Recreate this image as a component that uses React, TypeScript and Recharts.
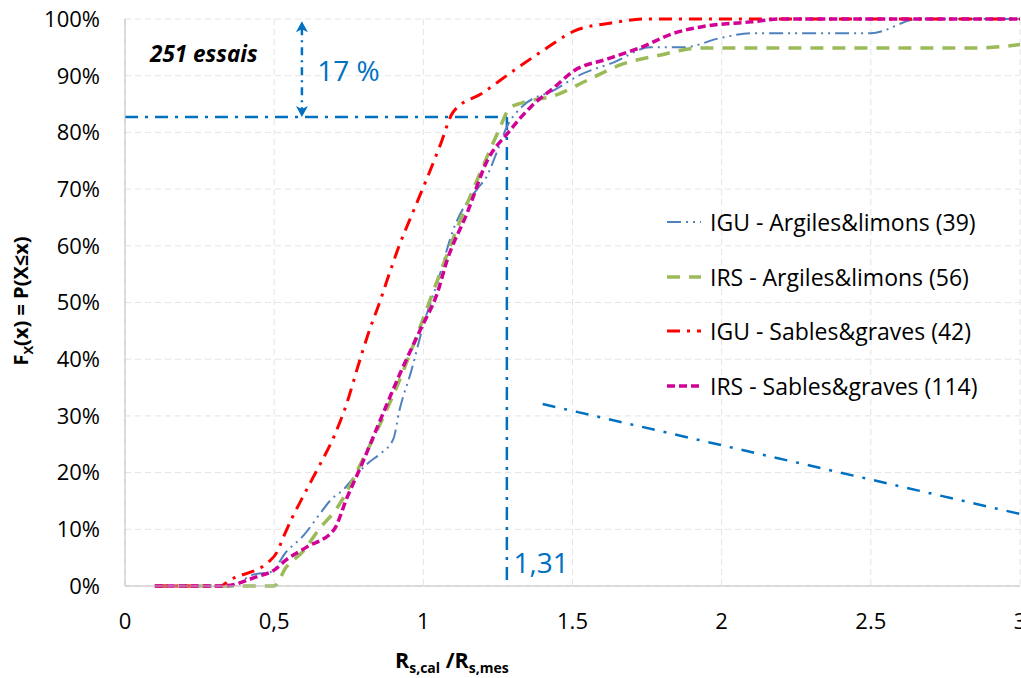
import React from 'react'
import {
  LineChart,
  Line,
  XAxis,
  YAxis,
  CartesianGrid,
  Legend,
  ReferenceLine,
  ReferenceDot,
} from 'recharts'

const FONT = "'Open Sans', Lato, sans-serif"
const BLUE_NOTE = '#0070C0'

// x ticks, written as on the original (mixed decimal marks)
const xTicks = [0, 0.5, 1, 1.5, 2, 2.5, 3]
const xTickLabels = ['0', '0,5', '1', '1.5', '2', '2.5', '3']
const yTicks = [0, 10, 20, 30, 40, 50, 60, 70, 80, 90, 100]

// IGU - Argiles&limons (39)
const iguArgX = [0.1, 0.35, 0.43, 0.49, 0.54, 0.6, 0.65, 0.69, 0.73, 0.78, 0.82, 0.86, 0.9, 0.92, 0.96, 1.0, 1.05, 1.1, 1.18, 1.21, 1.25, 1.28, 1.33, 1.44, 1.52, 1.64, 1.76, 1.87, 2.0, 2.1, 2.5, 2.66, 3.0]
const iguArgY = [0, 0, 2, 2.5, 6, 9, 12.5, 15.2, 16.9, 19.9, 21.9, 23.5, 26, 31, 38, 46, 54, 62.8, 70, 72, 77, 81, 84.5, 87.5, 90, 92.4, 95, 95, 96.7, 97.5, 97.5, 100, 100]

// IRS - Argiles&limons (56)
const irsArgX = [0.1, 0.5, 0.54, 0.6, 0.65, 0.71, 0.755, 0.78, 0.85, 0.91, 0.97, 1.03, 1.12, 1.19, 1.25, 1.29, 1.33, 1.44, 1.55, 1.66, 1.79, 1.93, 2.86, 3.0]
const irsArgY = [0, 0, 3.3, 6.3, 10, 13.7, 17.8, 20.5, 28, 35, 43, 51.5, 64, 72.8, 80, 84.3, 85.2, 86.5, 89.2, 91.9, 93.6, 94.9, 94.9, 95.5]

// IGU - Sables&graves (42)
const iguSabX = [0.1, 0.32, 0.35, 0.48, 0.51, 0.53, 0.56, 0.594, 0.644, 0.7, 0.744, 0.78, 0.816, 0.856, 0.879, 0.919, 0.964, 1.01, 1.057, 1.1, 1.2, 1.3, 1.4, 1.507, 1.63, 1.75, 3.0]
const iguSabY = [0, 0, 1, 4.2, 6, 8.5, 12, 15.5, 20.5, 26.3, 32.3, 38.6, 44.6, 50.4, 54, 60, 65.8, 71.6, 77.8, 83.6, 87, 90.8, 94.4, 97.9, 99.3, 100, 100]

// IRS - Sables&graves (114)
const irsSabX = [0.1, 0.33, 0.44, 0.5, 0.54, 0.61, 0.7, 0.745, 0.79, 0.856, 0.923, 0.99, 1.047, 1.08, 1.147, 1.215, 1.285, 1.36, 1.44, 1.5, 1.62, 1.73, 1.84, 1.93, 2.1, 2.2, 3.0]
const irsSabY = [0, 0, 1.6, 2.8, 4.6, 6.9, 9.9, 15.7, 21, 29.3, 37.6, 45.2, 51.7, 57.5, 65.8, 75.1, 80, 84.5, 88, 90.7, 93, 95, 97.5, 98.6, 99.5, 100, 100]

// annotation values
const readX = 1.28
const readY = 82.7
const arrowX = 0.593
const arrowTop = 99.6
const trendFrom = { x: 1.4, y: 32.1 }
const trendTo = { x: 3.0, y: 12.7 }

const toPoints = (xs: number[], ys: number[]) => xs.map((x, i) => ({ x, y: ys[i] }))

const series = [
  { name: 'IGU - Argiles&limons (39)', data: toPoints(iguArgX, iguArgY), color: '#4F81BD', width: 2, dash: '14 5 2 5 2 5' },
  { name: 'IRS - Argiles&limons (56)', data: toPoints(irsArgX, irsArgY), color: '#9BBB59', width: 3.5, dash: '13 9' },
  { name: 'IGU - Sables&graves (42)', data: toPoints(iguSabX, iguSabY), color: '#FF0000', width: 3, dash: '13 7 3 7' },
  { name: 'IRS - Sables&graves (114)', data: toPoints(irsSabX, irsSabY), color: '#D10096', width: 3.5, dash: '8 4' },
]

const arrowShape = (p: any) => {
  const { x1, y1, x2, y2 } = p
  const top = Math.min(y1, y2)
  const bot = Math.max(y1, y2)
  return (
    <g>
      <line x1={x1} y1={top + 6} x2={x2} y2={bot - 6} stroke={BLUE_NOTE} strokeWidth={2.5} strokeDasharray="8 5 2 5" />
      <path d={`M${x1},${top} L${x1 - 6},${top + 11} L${x1},${top + 8} L${x1 + 6},${top + 11} Z`} fill={BLUE_NOTE} />
      <path d={`M${x1},${bot} L${x1 - 6},${bot - 11} L${x1},${bot - 8} L${x1 + 6},${bot - 11} Z`} fill={BLUE_NOTE} />
    </g>
  )
}

const textAt = (txt: string, style: any) => (p: any) => (
  <text x={p.cx} y={p.cy} fontFamily={FONT} {...style}>
    {txt}
  </text>
)

const renderLegend = () => (
  <div style={{ fontFamily: FONT, fontSize: 23, color: '#000' }}>
    {series.map(s => (
      <div key={s.name} style={{ display: 'flex', alignItems: 'center', height: 54.5 }}>
        <svg width={44} height={10} style={{ marginRight: 2 }}>
          <line x1={3} y1={5} x2={37} y2={5} stroke={s.color} strokeWidth={s.width} strokeDasharray={s.dash} />
        </svg>
        <span>{s.name}</span>
      </div>
    ))}
  </div>
)

const YLabel = () => (
  <text transform="translate(28,301) rotate(-90)" textAnchor="middle" fontFamily={FONT} fontWeight="bold" fontSize={20} fill="#000">
    F<tspan fontSize={13} dy={5}>X</tspan>
    <tspan dy={-5}>(x) = P(X≤x)</tspan>
  </text>
)

const XLabel = () => (
  <text x={395} y={668} fontFamily={FONT} fontWeight="bold" fontSize={21.5} fill="#000">
    R<tspan fontSize={14} dy={5}>s,cal</tspan>
    <tspan dy={-5}> /R</tspan>
    <tspan fontSize={14} dy={5}>s,mes</tspan>
  </text>
)

const App = () => {
  return (
    <div style={{ position: 'absolute', left: 0, top: 0, width: 1021, height: 678, overflow: 'hidden', background: '#fff' }}>
      <LineChart width={1040} height={678} margin={{ top: 19, right: 20, bottom: 32, left: 25 }}>
        <CartesianGrid stroke="#E4E4E4" strokeDasharray="6 4" />
        <XAxis
          dataKey="x"
          type="number"
          domain={[0, 3]}
          ticks={xTicks}
          tickFormatter={(v: number) => xTickLabels[xTicks.indexOf(v)] ?? String(v)}
          height={60}
          stroke="#BFBFBF"
          tickLine={false}
          tickSize={0}
          tickMargin={27}
          tick={{ fill: '#000', fontSize: 22, fontFamily: FONT }}
          label={<XLabel />}
        />
        <YAxis
          type="number"
          domain={[0, 100]}
          ticks={yTicks}
          tickFormatter={(v: number) => `${v}%`}
          width={100}
          stroke="#BFBFBF"
          tickLine={false}
          tickSize={0}
          tickMargin={25}
          tick={{ fill: '#000', fontSize: 22, fontFamily: FONT }}
          label={<YLabel />}
        />
        <ReferenceLine segment={[{ x: 0, y: readY }, { x: readX, y: readY }]} stroke={BLUE_NOTE} strokeWidth={2.5} strokeDasharray="13 7 3 7" />
        <ReferenceLine segment={[{ x: readX, y: readY }, { x: readX, y: 0 }]} stroke={BLUE_NOTE} strokeWidth={2.5} strokeDasharray="13 7 3 7" />
        <ReferenceLine segment={[trendFrom, trendTo]} stroke={BLUE_NOTE} strokeWidth={2.5} strokeDasharray="13 9 3 9" ifOverflow="visible" />
        <ReferenceLine segment={[{ x: arrowX, y: arrowTop }, { x: arrowX, y: readY }]} shape={arrowShape} />
        {series.map(s => (
          <Line
            key={s.name}
            name={s.name}
            data={s.data}
            dataKey="y"
            type="monotoneX"
            stroke={s.color}
            strokeWidth={s.width}
            strokeDasharray={s.dash}
            dot={false}
            activeDot={false}
            isAnimationActive={false}
          />
        ))}
        <ReferenceDot x={0.084} y={92.4} r={0} shape={textAt('251 essais', { fontSize: 22.5, fontWeight: 'bold', fontStyle: 'italic', fill: '#000' })} />
        <ReferenceDot x={0.644} y={89.0} r={0} shape={textAt('17 %', { fontSize: 28, fill: BLUE_NOTE })} />
        <ReferenceDot x={1.302} y={2.3} r={0} shape={textAt('1,31', { fontSize: 28, fill: BLUE_NOTE })} />
        <Legend
          layout="vertical"
          align="center"
          verticalAlign="middle"
          content={renderLegend}
          wrapperStyle={{ position: 'absolute', left: 664, top: 195, width: 350 }}
        />
      </LineChart>
    </div>
  )
}

export default App
